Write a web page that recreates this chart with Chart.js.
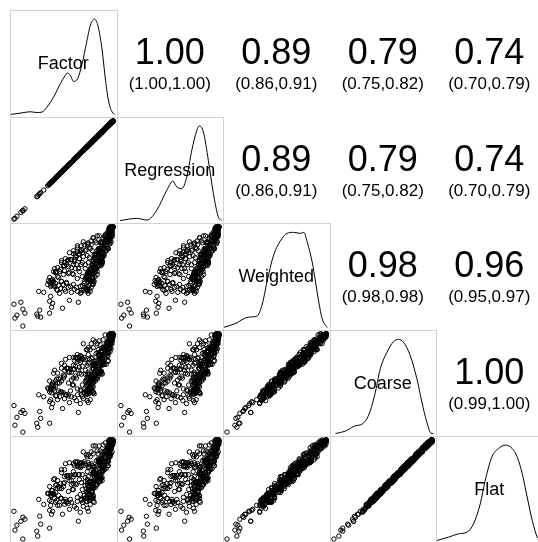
<!DOCTYPE html>
<html>
<head>
<meta charset="utf-8">
<script src="https://cdn.jsdelivr.net/npm/chart.js@4.4.0/dist/chart.umd.min.js"></script>
<style>
  html, body { margin: 0; padding: 0; background: #fff; overflow: hidden; }
  #grid { position: relative; width: 538px; height: 542px; overflow: hidden; }
  .cell { position: absolute; }
  .txt {
    position: absolute;
    transform: translate(-50%, -50%);
    line-height: 1;
    white-space: nowrap;
    font-family: "Liberation Sans", Arial, sans-serif;
    color: #000;
  }
</style>
</head>
<body>
<div id="grid"></div>
<script>
// Variable names, in panel order.
var varNames = ['Factor', 'Regression', 'Weighted', 'Coarse', 'Flat'];

// Scores (one value per observation, same order in each array).
var factor = [0,7,9,1,3,11,9,24,26,23,27,36,38,36,39,49,56,65,25,30,37,
  34,36,38,40,41,44,47,50,52,55,58,61,64,67,70,73,76,46,35,39,37,
  36,38,40,42,44,46,48,50,52,54,56,58,60,62,64,66,68,70,72,74,76,78,80,82,84,86,
  60,64,66,69,72,71,74,68,75,62,
  76,67,74,77,75,69,79,75,74,74,84,76,75,76,73,86,79,76,79,88,
  80,73,83,84,82,81,89,78,80,83,81,87,89,77,86,95,82,82,87,94,
  86,85,95,86,88,92,88,89,96,86,96,97,93,85,97,99,89,97,99,97,
  97,96,96,98,100,97,100,99,98,97,100,97,97,99,96,100,99,95,95,98,
  68,81,73,75,74,80,79,68,80,77,80,80,75,74,73,78,74,89,76,75,
  86,79,80,77,89,80,82,80,72,88,81,85,76,89,88,74,88,87,89,79,
  91,80,78,95,80,94,84,84,89,89,90,82,96,91,91,79,89,95,87,99,
  84,95,96,85,92,98,98,88,99,93,90,97,98,99,92,99,96,100,96,97,
  96,100,98,97,99,100,93,92,87,86,
  38,40,42,43,45,47,48,50,51,53,55,56,57,59,60,61,63,64,65,66,
  67,69,70,71,72,73,74,75,76,77,78,79,80,81,83,
  37,39,42,45,48,51,53,57,60,63,71,78,
  78,74,82,78,76,82,85,81,84,89,80,88,85,90,83,89,90,86,93,88,
  86,91,94,89,91,97,87,95,92,97,90,95,97,92,99,95,94,98,98,97,
  43,41,51,48,55,63,60,67,64,75,44,55,51,58,53,61,66,62,69,68];
var regression = [0.4,7.2,8.7,1.1,3.3,10.8,9.2,23.6,26.3,23.1,27.2,35.8,38.1,36.3,38.8,49.2,55.7,65.1,25.2,29.8,37.1,
  34.2,35.9,38.3,40.1,40.8,44.2,47.1,49.8,52.2,54.9,58.1,61.2,63.8,67.1,69.9,73.2,75.8,46.2,35.1,38.8,37.2,
  36.1,38.2,39.8,42.1,44.2,45.9,48.1,50.2,51.9,54.1,56.2,57.9,60.1,62.2,63.9,66.1,68.2,69.9,72.1,74.2,75.9,78.1,80.2,81.9,84.1,86.2,
  60.2,63.8,66.1,69.2,71.9,71.1,74.2,67.9,75.1,62.2,
  76.2,66.9,74.1,76.8,75,69.3,78.7,75.1,73.9,74.2,84.2,75.9,75.1,75.8,73,86.3,78.7,76.1,78.9,88.2,
  80.2,72.9,83.1,83.8,82,81.3,88.7,78.1,79.9,83.2,81.2,86.9,89.1,76.8,86,95.3,81.7,82.1,86.9,94.2,
  86.2,84.9,95.1,85.8,88,92.3,87.7,89.1,95.9,86.2,96.2,96.9,93.1,84.8,97,99.3,88.7,97.1,98.9,97.2,
  97.2,95.9,96.1,97.8,100,97.3,99.8,99.1,97.9,97.2,99.8,96.9,97.1,98.8,96,99.7,98.7,95.1,94.9,98.2,
  68.2,80.9,73.1,74.8,74,80.3,78.7,68.1,79.9,77.2,80.2,79.9,75.1,73.8,73,78.3,73.7,89.1,75.9,75.2,
  86.2,78.9,80.1,76.8,89,80.3,81.7,80.1,71.9,88.2,81.2,84.9,76.1,88.8,88,74.3,87.7,87.1,88.9,79.2,
  91.2,79.9,78.1,94.8,80,94.3,83.7,84.1,88.9,89.2,90.2,81.9,96.1,90.8,91,79.3,88.7,95.1,86.9,99.2,
  84.2,94.9,96.1,84.8,92,98.3,97.7,88.1,98.9,93.2,90.2,96.9,98.1,98.8,92,99.3,95.7,99.8,95.9,97.2,
  96.2,99.9,98.1,96.8,99,99.7,92.7,92.1,86.9,86.2,
  38.2,39.9,42.1,42.8,45,47.3,47.7,50.1,50.9,53.2,55.2,55.9,57.1,58.8,60,61.3,62.7,64.1,64.9,66.2,
  67.2,68.9,70.1,70.8,72,73.3,73.7,75.1,75.9,77.2,78.2,78.9,80.1,80.8,83,
  37.2,38.9,42.1,44.8,48,51.3,52.7,57.1,59.9,63.2,71.2,77.9,
  78.1,73.8,82.2,77.9,76,82.3,84.7,81.1,83.9,89.2,80.1,87.8,85.2,89.9,83,89.3,89.7,86.1,92.9,88.2,
  86.1,90.8,94.2,88.9,91,97.3,86.7,95.1,91.9,97.2,90.1,94.8,97.2,91.9,99,95.3,93.7,98.1,97.9,97.2,
  43.1,40.8,51.2,47.9,55,63.3,59.7,67.1,63.9,75.2,44.1,54.8,51.2,57.9,53,61.3,65.7,62.1,68.9,68.2];
var weighted = [22,24,17,8,11,13,0,10,16,12,9,25,19,13,23,18,26,24,35,34,30,
  42,44,41,45,40,36,38,42,35,39,34,37,35,40,36,38,41,33,46,47,43,
  49,44,55,54,59,55,66,61,68,66,74,67,76,73,81,73,81,85,76,83,79,86,89,86,91,91,
  52,48,55,50,58,45,52,62,64,58,
  37,33,37,35,47,41,48,33,48,40,52,47,53,41,50,61,46,54,49,61,
  60,49,58,55,67,58,65,53,65,57,69,64,70,58,67,78,63,71,66,78,
  77,66,78,72,84,78,85,70,86,78,90,84,90,78,91,97,84,95,90,98,
  99,89,98,96,100,99,100,92,100,96,100,98,100,95,99,100,92,95,88,91,
  34,45,37,54,35,45,54,36,48,46,59,42,54,36,38,58,47,64,46,55,
  64,43,58,56,69,52,64,43,48,68,57,74,53,65,74,53,68,62,78,61,
  73,52,54,78,67,84,63,72,84,63,78,72,88,71,83,62,68,88,77,94,
  76,85,94,73,91,85,98,85,97,76,81,99,90,100,89,98,97,100,94,99,
  96,100,98,100,99,100,88,92,65,67,
  46,41,54,37,49,57,45,52,64,44,60,54,67,53,62,67,62,75,58,68,
  75,64,70,82,62,77,71,84,69,78,82,76,89,72,84,
  40,44,43,41,45,37,43,40,42,39,43,39,
  45,48,50,52,55,57,60,62,63,65,66,68,70,71,72,73,74,75,76,77,
  78,79,80,81,82,83,84,85,86,87,88,89,90,91,92,93,94,95,96,97,
  55,58,61,64,67,70,73,76,79,82,50,53,56,59,62,65,68,71,74,77];
var coarse = [27,20,22,7,15,19,0,5,21,9,14,31,25,9,29,24,30,20,38,36,33,
  45,41,44,44,42,33,41,40,38,37,36,35,38,43,34,41,39,36,44,50,45,
  52,40,60,52,60,50,70,58,74,65,76,61,76,76,79,76,77,90,74,84,74,90,86,92,90,93,
  55,44,60,48,59,40,56,59,70,57,
  40,29,42,33,48,36,52,30,54,39,54,41,53,44,48,64,42,59,47,62,
  55,53,55,61,66,60,59,53,68,55,72,60,75,56,68,73,67,68,72,77,
  79,60,78,75,82,81,81,75,84,79,85,88,87,84,90,96,78,95,93,96,
  98,86,99,95,100,97,99,90,100,95,99,97,100,96,98,100,94,93,90,93,
  38,39,38,61,32,40,56,42,41,46,64,40,50,39,42,52,48,71,43,50,
  66,49,51,56,74,50,60,46,52,62,58,81,50,60,76,59,61,62,83,59,
  69,55,58,72,68,91,60,67,86,69,71,72,93,69,79,65,72,82,78,100,
  73,80,96,79,84,85,99,83,93,79,85,96,91,100,86,95,99,100,90,99,
  99,98,96,100,100,97,89,99,62,62,
  48,47,47,37,54,55,41,55,68,38,61,61,64,48,64,73,55,75,63,66,
  71,67,74,76,63,84,68,79,71,84,75,76,94,70,80,
  43,48,37,42,52,34,38,42,48,32,43,44,
  51,43,52,45,59,57,57,69,57,68,65,73,66,72,70,79,69,77,69,81,
  78,76,87,75,85,82,89,81,87,85,94,84,92,84,96,93,91,100,90,99,
  54,63,57,65,65,76,68,78,72,86,50,50,63,53,65,64,73,67,75,75];
var flat = [28,18,22,9,14,20,0,3,23,8,15,29,25,11,28,25,30,18,40,35,34,
  46,39,44,46,41,34,41,38,40,36,37,33,38,45,33,42,39,34,46,49,46,
  53,38,60,54,59,51,70,56,76,64,77,59,76,78,78,77,77,88,76,83,75,88,86,94,89,94,
  56,42,60,50,58,41,56,57,72,56,
  41,27,42,35,47,37,52,28,56,38,55,39,53,46,47,65,42,57,49,61,
  56,51,55,63,65,61,59,51,70,54,73,58,75,58,67,74,67,66,74,76,
  80,58,78,77,81,82,81,73,86,78,86,86,87,86,89,97,78,93,95,95,
  99,84,99,97,99,98,99,88,100,94,100,95,100,98,97,100,94,91,92,92,
  39,37,38,63,31,41,56,40,43,45,65,38,50,41,41,53,48,69,45,49,
  67,47,51,58,73,51,60,44,54,61,59,79,50,62,75,60,61,60,85,58,
  70,53,58,74,67,92,60,65,88,68,72,70,93,71,78,66,72,80,80,99,
  74,78,96,81,83,86,99,81,95,78,86,94,91,100,85,96,99,98,92,98,
  100,96,96,100,99,98,89,97,64,61,
  49,45,47,39,53,56,41,53,70,37,62,59,64,50,63,74,55,73,65,65,
  72,65,74,78,62,85,68,77,73,83,76,74,94,72,79,
  44,46,37,44,51,35,38,40,50,31,44,42,
  52,41,52,47,58,58,57,67,59,67,66,71,66,74,69,80,69,75,71,80,
  79,74,87,77,84,83,89,79,89,84,95,82,92,86,95,94,91,98,92,98,
  55,61,57,67,64,77,68,76,74,85,51,48,63,55,64,65,73,65,77,74];

// Density curves on the diagonal (x in score units, y relative to peak).
var factorDensX = [-4,6.2,16.3,23.1,28.2,33.3,40,46.8,51.8,53.5,56.9,60.2,64.3,68.8,73.1,77.2,81.2,84.6,89,92.4,95.7,99.2,101.5];
var factorDensY = [0,0.014,0.029,0.021,0.025,0.077,0.182,0.323,0.411,0.435,0.411,0.347,0.376,0.533,0.744,0.937,1,0.937,0.674,0.358,0.13,0.025,0];
var regressionDensX = [-0.4,16.5,26.7,36.8,47,53,57.1,62.2,67.2,72.3,77.4,80,84.1,89.1,94.2,99.2,102.7];
var regressionDensY = [0,0.023,0.005,0.11,0.321,0.416,0.356,0.338,0.461,0.742,0.953,1,0.937,0.637,0.287,0.04,0];
var weightedDensX = [-3.7,8.2,21.7,30.2,35.3,40.4,47.1,55.6,60.6,67.3,74.1,77.5,80.9,86,89.4,92.7,96.1,101.2];
var weightedDensY = [0,0.04,0.109,0.119,0.232,0.477,0.758,0.933,0.986,0.997,0.986,0.997,0.898,0.687,0.477,0.266,0.091,0];
var coarseDensX = [1.6,11.8,21.9,28.7,35.4,41.5,47.3,54.1,60.8,65.8,70.9,77.7,84.5,89.6,94.6,99,101.3];
var coarseDensY = [0,0.026,0.082,0.1,0.195,0.405,0.686,0.861,0.974,0.995,0.966,0.826,0.58,0.333,0.123,0.003,0];
var flatDensX = [-3.2,8.5,18.7,27.2,33.9,40.7,45.7,52.5,59.2,66,72.8,77.9,83,88,93.1,98.2,101.7];
var flatDensY = [0,0.035,0.07,0.087,0.175,0.386,0.632,0.877,0.965,1,0.965,0.877,0.702,0.456,0.211,0.035,0];

// Correlations and confidence intervals, upper triangle in row order.
var corrR = [1.00, 0.89, 0.79, 0.74, 0.89, 0.79, 0.74, 0.98, 0.96, 1.00];
var corrLow = [1.00, 0.86, 0.75, 0.70, 0.86, 0.75, 0.70, 0.98, 0.95, 0.99];
var corrHigh = [1.00, 0.91, 0.82, 0.79, 0.91, 0.82, 0.79, 0.98, 0.97, 1.00];

var scores = [factor, regression, weighted, coarse, flat];
var densX = [factorDensX, regressionDensX, weightedDensX, coarseDensX, flatDensX];
var densY = [factorDensY, regressionDensY, weightedDensY, coarseDensY, flatDensY];

var grid = document.getElementById('grid');
var cellEdge = function (k) { return 10 + k * 106.5; };

function axisRange(arr) {
  var lo = Math.min.apply(null, arr);
  var hi = Math.max.apply(null, arr);
  var pad = (hi - lo) * 0.04;
  return { min: lo - pad, max: hi + pad };
}

// Light grey frame round a panel.
var panelBox = {
  id: 'panelBox',
  afterDraw: function (chart) {
    var a = chart.chartArea;
    var ctx = chart.ctx;
    ctx.save();
    ctx.strokeStyle = '#d3d3d3';
    ctx.lineWidth = 1;
    ctx.strokeRect(a.left + 0.5, a.top + 0.5, a.right - a.left, a.bottom - a.top);
    ctx.restore();
  }
};

function makeCanvas(r, c) {
  var x0 = Math.round(cellEdge(c)), x1 = Math.round(cellEdge(c + 1));
  var y0 = Math.round(cellEdge(r)), y1 = Math.round(cellEdge(r + 1));
  var cv = document.createElement('canvas');
  cv.className = 'cell';
  cv.width = x1 - x0 + 1;
  cv.height = y1 - y0 + 1;
  cv.style.left = x0 + 'px';
  cv.style.top = y0 + 'px';
  cv.style.width = cv.width + 'px';
  cv.style.height = cv.height + 'px';
  grid.appendChild(cv);
  return cv;
}

function addText(str, x, y, size) {
  var d = document.createElement('div');
  d.className = 'txt';
  d.style.left = x + 'px';
  d.style.top = y + 'px';
  d.style.fontSize = size + 'px';
  d.textContent = str;
  grid.appendChild(d);
}

function panelOptions(xr, yr) {
  return {
    responsive: false,
    animation: false,
    devicePixelRatio: 1,
    events: [],
    layout: { padding: { right: 1, bottom: 1 }, autoPadding: false },
    plugins: { legend: { display: false }, tooltip: { enabled: false } },
    scales: {
      x: { type: 'linear', min: xr.min, max: xr.max, display: false },
      y: { type: 'linear', min: yr.min, max: yr.max, display: false }
    }
  };
}

var k = 0;
for (var r = 0; r < 5; r++) {
  for (var c = 0; c < 5; c++) {
    var cx = cellEdge(c) + 106.5 / 2;
    var cy = cellEdge(r) + 106.5 / 2;
    if (r > c) {
      // Scatter panel: column variable across, row variable up.
      var xs = scores[c], ys = scores[r];
      var pts = xs.map(function (v, i) { return { x: v, y: ys[i] }; });
      new Chart(makeCanvas(r, c), {
        type: 'scatter',
        plugins: [panelBox],
        data: {
          datasets: [{
            data: pts,
            pointStyle: 'circle',
            pointRadius: 2.2,
            pointBorderWidth: 1,
            pointBorderColor: '#000',
            pointBackgroundColor: 'rgba(0,0,0,0)'
          }]
        },
        options: panelOptions(axisRange(xs), axisRange(ys))
      });
    }
    else if (r === c) {
      // Density curve with the variable name.
      var dens = densX[r].map(function (v, i) { return { x: v, y: densY[r][i] }; });
      new Chart(makeCanvas(r, c), {
        type: 'scatter',
        plugins: [panelBox],
        data: {
          datasets: [{
            data: dens,
            showLine: true,
            pointRadius: 0,
            borderColor: '#000',
            borderWidth: 1,
            cubicInterpolationMode: 'monotone'
          }]
        },
        options: panelOptions(axisRange(scores[r]), { min: -0.026, max: 1.095 })
      });
      addText(varNames[r], cx, cy, 18);
    }
    else {
      addText(corrR[k].toFixed(2), cx, cy - 11, 36);
      addText('(' + corrLow[k].toFixed(2) + ',' + corrHigh[k].toFixed(2) + ')', cx, cy + 20, 17);
      k++;
    }
  }
}
</script>
</body>
</html>
